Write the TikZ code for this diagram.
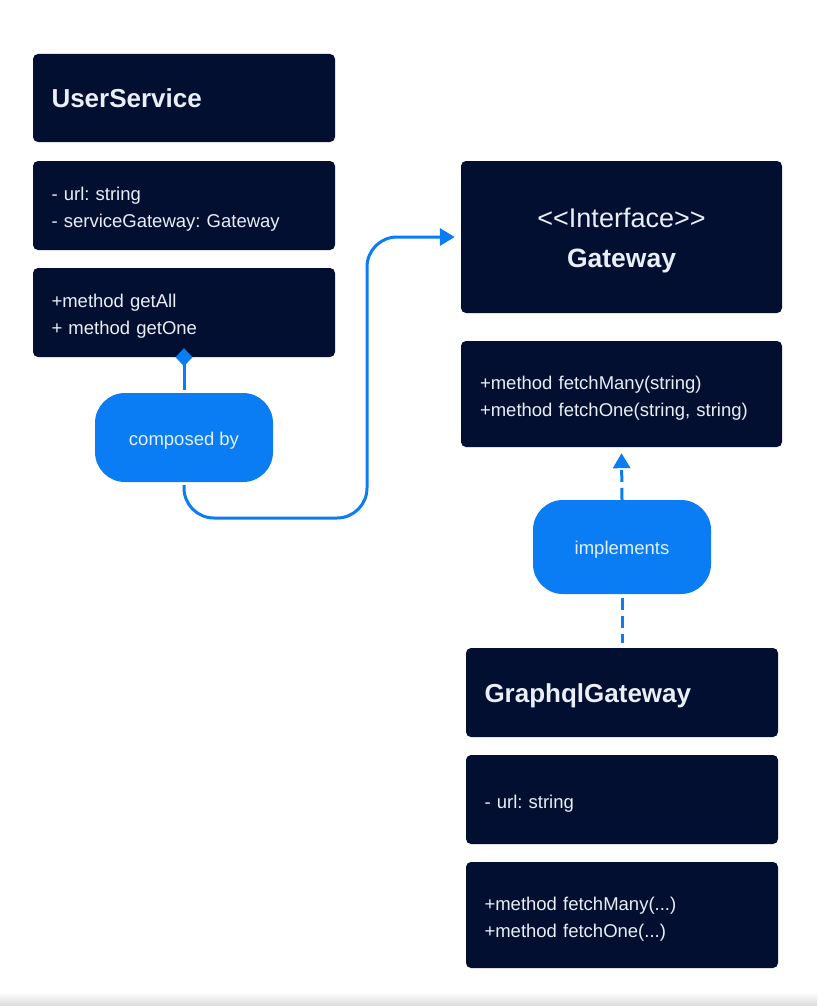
\documentclass[tikz,border=0pt]{standalone}
\usepackage{fontspec}
\setmainfont{Liberation Sans}
\usetikzlibrary{arrows.meta}
\definecolor{navy}{HTML}{020F30}
\definecolor{boxtext}{HTML}{E9EEF7}
\definecolor{umlblue}{HTML}{0A7CF4}
\definecolor{pilltext}{HTML}{E2F0FF}
\frenchspacing
\begin{document}
\begin{tikzpicture}[x=1pt,y=-1pt,
  box/.style={fill=navy, rounded corners=5pt, text=boxtext, inner ysep=0pt, inner xsep=18.5pt, align=left},
  title/.style={font=\fontsize{26}{30}\selectfont\bfseries, text height=20pt, text depth=0pt},
  body/.style={font=\fontsize{18.5}{27}\selectfont, text height=17.5pt, text depth=0pt},
  twolines/.style={text depth=27pt},
  pill/.style={fill=umlblue, rounded corners=30pt, text=pilltext, inner sep=0pt, minimum width=178pt, font=\fontsize{18.5}{22}\selectfont, text height=15pt, text depth=0pt},
  conn/.style={draw=umlblue, line width=3pt},
  tri/.style={-{Triangle[length=15pt,width=17pt]}}
]
\useasboundingbox (0,0) rectangle (817,1006);
\fill[white] (0,0) rectangle (817,1006);
\shade[top color=white, bottom color=black!14] (0,992) rectangle (817,1006);

% UserService
\node[box, title, text width=265pt, minimum height=88pt] (ush) at (184,98) {UserService};
\node[box, body, twolines, text width=265pt, minimum height=89pt] (usa) at (184,205.5) {- url: string\\- serviceGateway: Gateway};
\node[box, body, twolines, text width=265pt, minimum height=89pt] (usm) at (184,312.5) {+method getAll\\+ method getOne};

% Gateway
\node[box, text width=321pt, inner xsep=0pt, align=center, minimum height=152pt, font=\fontsize{27}{40}\selectfont, text height=21.4pt, text depth=40pt] (gwh) at (621.5,237) {<{}<Interface>{}>\\\fontsize{26.5}{40}\selectfont\bfseries Gateway};
\node[box, body, twolines, text width=283pt, inner xsep=19pt, minimum height=106pt] (gwm) at (621.5,394) {+method fetchMany(string)\\+method fetchOne(string, string)};

% GraphqlGateway
\node[box, title, text width=275pt, minimum height=89pt] (gqh) at (622,692.5) {GraphqlGateway};
\node[box, body, text width=275pt, minimum height=89pt] (gqa) at (622,799.5) {- url: string};
\node[box, body, twolines, text width=275pt, minimum height=106pt] (gqm) at (622,915) {+method fetchMany(...)\\+method fetchOne(...)};

% relation labels
\node[pill, minimum height=89pt] (cb) at (184,437.5) {composed by};
\node[pill, minimum height=94pt] (impl) at (622,547) {implements};

% composition
\draw[conn, -{Diamond[length=18pt,width=17pt]}] ([yshift=3pt]cb.north) -- ([yshift=9pt]usm.south);
\coordinate (c1) at (184,518);
\coordinate (c2) at (367,518);
\coordinate (c3) at (367,237);
\draw[conn, tri, rounded corners=30pt] ([yshift=-3pt]cb.south) -- (c1) -- (c2) -- (c3) -- ([xshift=-6pt]gwh.west);

% implementation
\draw[conn, tri, dash pattern=on 12pt off 6pt] (impl.north) -- ([yshift=-6pt]gwm.south);
\draw[conn, dash pattern=on 12pt off 6pt] ([yshift=-4pt]impl.south) -- ([yshift=5pt]gqh.north);
\end{tikzpicture}
\end{document}
